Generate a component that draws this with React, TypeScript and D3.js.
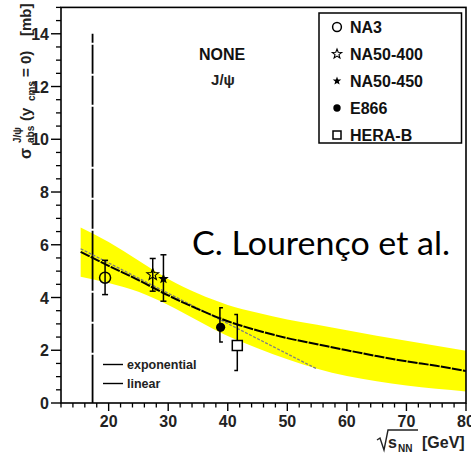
import React from "react";
import * as d3 from "d3";

// ---------- data ----------
const xTicks = [20, 30, 40, 50, 60, 70, 80];
const yTicks = [0, 2, 4, 6, 8, 10, 12, 14];
const experiments = ["NA3", "NA50-400", "NA50-450", "E866", "HERA-B"];
const markerKinds = ["openCircle", "openStar", "filledStar", "filledCircle", "openSquare"];
const barKinds = ["I", "I", "I", "[", "]"];
const sqrtS = [19.4, 27.4, 29.2, 38.8, 41.6];
const sigmaAbs = [4.75, 4.87, 4.71, 2.87, 2.18];
const errLow = [4.11, 4.24, 3.86, 2.31, 1.23];
const errHigh = [5.41, 5.48, 5.62, 3.61, 3.36];

const fitX = [15.3, 20, 25, 30, 35, 40, 45, 50, 55, 60, 65, 70, 75, 80];
const expFit = [5.73, 5.2, 4.66, 4.08, 3.56, 3.1, 2.75, 2.46, 2.23, 2.0, 1.78, 1.58, 1.41, 1.21];
const bandHigh = [6.65, 6.1, 5.4, 4.7, 4.15, 3.72, 3.42, 3.17, 2.97, 2.76, 2.55, 2.36, 2.17, 1.98];
const bandLow = [4.79, 4.55, 4.22, 3.72, 3.12, 2.54, 2.08, 1.66, 1.3, 1.02, 0.82, 0.66, 0.54, 0.44];

const linX = [15.3, 54.9];
const linFit = [5.85, 1.3];

const spsX = 17.3;
const spsRange = [0, 14];

const fitLabels = ["exponential", "linear"];

// ---------- layout ----------
const W = 471;
const H = 454;
const FONT = "'Liberation Sans', Arial, Helvetica, sans-serif";

const x = d3.scaleLinear().domain([12, 80]).range([61, 466]);
const y = d3.scaleLinear().domain([0, 15]).range([403, 7.4]);

function starPath(cx: number, cy: number, R: number) {
  const r = R * 0.42;
  const pts: string[] = [];
  for (let i = 0; i < 10; i++) {
    const a = -Math.PI / 2 + (i * Math.PI) / 5;
    const rr = i % 2 === 0 ? R : r;
    pts.push(`${cx + rr * Math.cos(a)},${cy + rr * Math.sin(a)}`);
  }
  return "M" + pts.join("L") + "Z";
}

function Marker({ kind, cx, cy, s }: { kind: string; cx: number; cy: number; s: number }) {
  switch (kind) {
    case "openCircle":
      return <circle cx={cx} cy={cy} r={5.5 * s} fill="none" stroke="#000" strokeWidth={1.5} />;
    case "filledCircle":
      return <circle cx={cx} cy={cy} r={4.6 * s} fill="#000" />;
    case "openStar":
      return <path d={starPath(cx, cy, 6.2 * s)} fill="none" stroke="#000" strokeWidth={1.1} />;
    case "filledStar":
      return <path d={starPath(cx, cy, 5.6 * s)} fill="#000" />;
    case "openSquare":
      return (
        <rect x={cx - 5 * s} y={cy - 5 * s} width={10 * s} height={10 * s} fill="#fff" stroke="#000" strokeWidth={1.5} />
      );
    default:
      return null;
  }
}

export default function App() {
  const band = d3
    .area<number>()
    .x((_, i) => x(fitX[i]))
    .y0((_, i) => y(bandLow[i]))
    .y1((_, i) => y(bandHigh[i]))
    .curve(d3.curveMonotoneX)(fitX);

  const expLine = d3
    .line<number>()
    .x((_, i) => x(fitX[i]))
    .y((d) => y(d))
    .curve(d3.curveMonotoneX)(expFit);

  const linLine = d3
    .line<number>()
    .x((_, i) => x(linX[i]))
    .y((d) => y(d))(linFit);

  const xMinor = d3.range(12, 80.01, 2).filter((v) => v % 10 !== 0);
  const yMinor = d3.range(0, 15.01, 0.5).filter((v) => v % 2 !== 0);

  const x0 = x.range()[0];
  const x1 = x.range()[1];
  const yb = y(0);
  const yt = y.range()[1];

  return (
    <svg
      width={W}
      height={H}
      style={{ position: "absolute", left: 0, top: 0, display: "block", background: "#fff" }}
      fontFamily={FONT}
    >
      <rect x={0} y={0} width={W} height={H} fill="#fff" />

      {/* uncertainty band */}
      <path d={band || ""} fill="#ffff00" stroke="none" />

      {/* SPS energy vertical dashed line */}
      <line
        x1={x(spsX)}
        x2={x(spsX)}
        y1={y(spsRange[1])}
        y2={y(spsRange[0])}
        stroke="#000"
        strokeWidth={1.8}
        strokeDasharray="29 2 29 2 60 2"
        strokeDashoffset={113}
      />

      {/* linear fit */}
      <path d={linLine || ""} fill="none" stroke="#808080" strokeWidth={1.3} strokeDasharray="3 1.5" />
      {/* exponential fit */}
      <path d={expLine || ""} fill="none" stroke="#000" strokeWidth={2} strokeDasharray="10 1.2" />

      {/* data points */}
      {experiments.map((name, i) => {
        const cx = x(sqrtS[i]);
        const cy = y(sigmaAbs[i]);
        const top = y(errHigh[i]);
        const bot = y(errLow[i]);
        const kind = barKinds[i];
        let bar;
        if (kind === "I") {
          bar = (
            <g stroke="#000" strokeWidth={1.5}>
              <line x1={cx} x2={cx} y1={top} y2={bot} />
              <line x1={cx - 3} x2={cx + 3} y1={top} y2={top} />
              <line x1={cx - 3} x2={cx + 3} y1={bot} y2={bot} />
            </g>
          );
        } else {
          const dir = kind === "[" ? 1 : -1;
          const bx = kind === "[" ? cx - 0.7 : cx;
          bar = (
            <g stroke="#000" strokeWidth={1.5} fill="none">
              <path d={`M${bx + dir * 3},${top}H${bx}V${bot}H${bx + dir * 3}`} />
            </g>
          );
        }
        return (
          <g key={name}>
            {bar}
            <Marker kind={markerKinds[i]} cx={cx} cy={cy} s={1} />
          </g>
        );
      })}

      {/* frame */}
      <rect x={x0} y={yt} width={x1 - x0} height={yb - yt} fill="none" stroke="#000" strokeWidth={1.6} />

      {/* x ticks */}
      {xTicks.map((t) => (
        <g key={"xt" + t}>
          <line x1={x(t)} x2={x(t)} y1={yb} y2={yb + 8} stroke="#000" strokeWidth={1.4} />
          <text x={x(t)} y={427} textAnchor="middle" fontSize={16} fontWeight="bold" fill="#222">
            {t}
          </text>
        </g>
      ))}
      {xMinor.map((t) => (
        <line key={"xm" + t} x1={x(t)} x2={x(t)} y1={yb} y2={yb + 4.5} stroke="#000" strokeWidth={1.3} />
      ))}

      {/* y ticks */}
      {yTicks.map((t) => (
        <g key={"yt" + t}>
          <line x1={x0 - 10} x2={x0} y1={y(t)} y2={y(t)} stroke="#000" strokeWidth={1.4} />
          <text x={49} y={y(t) + 6} textAnchor="end" fontSize={16} fontWeight="bold" fill="#222">
            {t}
          </text>
        </g>
      ))}
      {yMinor.map((t) => (
        <line key={"ym" + t} x1={x0 - 5} x2={x0} y1={y(t)} y2={y(t)} stroke="#000" strokeWidth={1.3} />
      ))}

      {/* y-axis title */}
      <g transform="translate(31,163) rotate(-90)" fill="#222" fontWeight="bold">
        <text x={4} y={0} fontSize={16}>σ</text>
        <text x={20} y={-10} fontSize={10}>J/ψ</text>
        <text x={20} y={3} fontSize={10}>abs</text>
        <text x={42} y={0} fontSize={15}>(y</text>
        <text x={62} y={4} fontSize={10}>cms</text>
        <text x={86} y={0} fontSize={15}>= 0)</text>
        <text x={127} y={0} fontSize={15}>[mb]</text>
      </g>

      {/* x-axis title */}
      <g fill="#222" fontWeight="bold">
        <path d="M377,440 L380,438 L384,450 L388,430 L418,430" fill="none" stroke="#222" strokeWidth={1.4} />
        <text x={388} y={448} fontSize={16}>s</text>
        <text x={398} y={452} fontSize={10}>NN</text>
        <text x={422} y={448} fontSize={16}>[GeV]</text>
      </g>

      {/* header text */}
      <text x={222} y={60} textAnchor="middle" fontSize={16} fontWeight="bold" fill="#111">
        NONE
      </text>
      <text x={223} y={85} textAnchor="middle" fontSize={15} fontWeight="bold" fill="#222">
        J/ψ
      </text>

      {/* legend */}
      <rect x={319} y={13} width={142.5} height={130} fill="#fff" stroke="#000" strokeWidth={1.5} />
      {experiments.map((name, i) => {
        const ly = 27 + i * 27;
        return (
          <g key={"lg" + name}>
            <Marker kind={markerKinds[i]} cx={337} cy={ly} s={0.8} />
            <text x={350} y={ly + 6} fontSize={16} fontWeight="bold" fill="#111">
              {name}
            </text>
          </g>
        );
      })}

      {/* fit legend */}
      {fitLabels.map((lab, i) => {
        const ly = 364.5 + i * 19;
        return (
          <g key={"fl" + lab}>
            <line x1={103} x2={123} y1={ly} y2={ly} stroke="#000" strokeWidth={1.4} />
            <text x={127} y={ly + 4.5} fontSize={12.5} fontWeight="bold" fill="#222">
              {lab}
            </text>
          </g>
        );
      })}

      {/* annotation */}
      <text
        x={192}
        y={255}
        fontFamily="Lato, 'Open Sans', sans-serif"
        fontSize={32}
        fill="#000"
        textLength={258}
        lengthAdjust="spacingAndGlyphs"
      >
        C. Lourenço et al.
      </text>
    </svg>
  );
}
